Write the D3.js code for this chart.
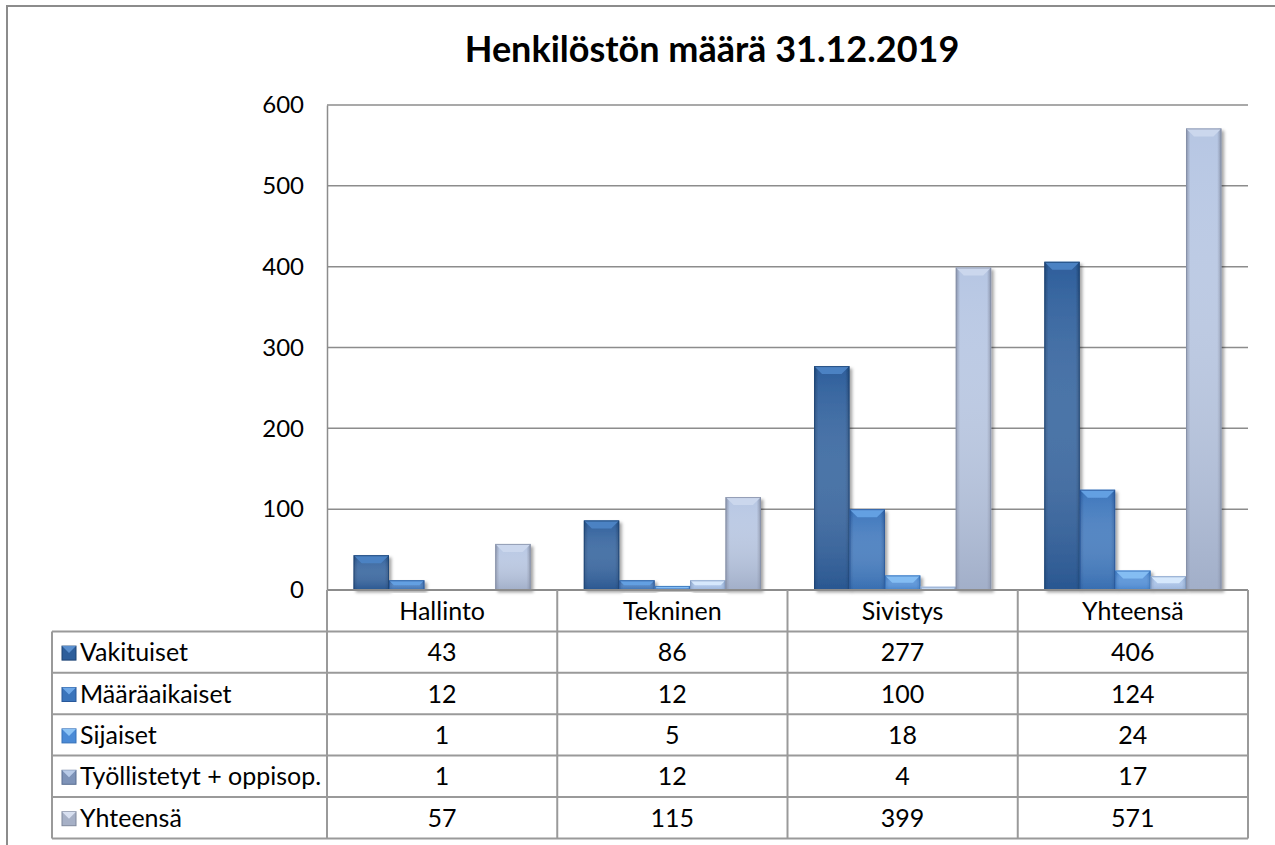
<!DOCTYPE html>
<html><head><meta charset="utf-8">
<script src="https://cdn.jsdelivr.net/npm/d3@7"></script>
<style>
html,body{margin:0;padding:0;background:#fff;}
svg{display:block;font-family:Lato,"Open Sans",sans-serif;}
</style></head>
<body>
<svg id="chart" width="1275" height="845"></svg>
<script>
const title = "Henkilöstön määrä 31.12.2019";
const categories = ["Hallinto","Tekninen","Sivistys","Yhteensä"];
const seriesNames = ["Vakituiset","Määräaikaiset","Sijaiset","Työllistetyt + oppisop.","Yhteensä"];
const vakituiset = [43,86,277,406];
const maaraaikaiset = [12,12,100,124];
const sijaiset = [1,5,18,24];
const tyollistetyt = [1,12,4,17];
const yhteensa = [57,115,399,571];
const yTicks = [0,100,200,300,400,500,600];

const seriesValues = [vakituiset, maaraaikaiset, sijaiset, tyollistetyt, yhteensa];
const palette = [
  {edge:"#1d4373", body:"#2d5e9b", topc:"#4c82c3", bottomBody:"#27528a"},
  {edge:"#28589a", body:"#3a74bb", topc:"#64a0e2", bottomBody:"#3469aa"},
  {edge:"#3470b8", body:"#4a8ad6", topc:"#84bdf3", bottomBody:"#4480c6"},
  {edge:"#7f9ac2", body:"#a4c0e8", topc:"#d6e8fc", bottomBody:"#93abd2"},
  {edge:"#848ea6", body:"#b6c6e3", topc:"#cbd7ed", bottomBody:"#949fb7"}
];
const iconPalette = [
  {edge:"#1d4373", body:"#2d5e9b", topc:"#5a8fce"},
  {edge:"#28589a", body:"#3a74bb", topc:"#6ea8e8"},
  {edge:"#3470b8", body:"#4a8ad6", topc:"#8cc3f5"},
  {edge:"#5a6f92", body:"#7e93b8", topc:"#b9cbe8"},
  {edge:"#7e879c", body:"#a6b0c6", topc:"#d8e0f0"}
];

const svg = d3.select("#chart");
const defs = svg.append("defs");
const f = defs.append("filter").attr("id","shadow").attr("x","-20%").attr("y","-20%").attr("width","150%").attr("height","150%");
f.append("feDropShadow").attr("dx",2.5).attr("dy",2.5).attr("stdDeviation",1.5).attr("flood-color","#000").attr("flood-opacity",0.35);

palette.forEach((p,i)=>{
  const gh = defs.append("linearGradient").attr("id","gh"+i).attr("x1","0").attr("x2","1").attr("y1","0").attr("y2","0");
  gh.append("stop").attr("offset","0%").attr("stop-color",p.edge);
  gh.append("stop").attr("offset","12%").attr("stop-color",p.body);
  gh.append("stop").attr("offset","88%").attr("stop-color",p.body);
  gh.append("stop").attr("offset","100%").attr("stop-color",p.edge);
  const gv = defs.append("linearGradient").attr("id","gv"+i).attr("x1","0").attr("x2","0").attr("y1","0").attr("y2","1");
  gv.append("stop").attr("offset","0%").attr("stop-color","#fff").attr("stop-opacity",0);
  gv.append("stop").attr("offset","100%").attr("stop-color",p.bottomBody).attr("stop-opacity",0.6);
});

svg.append("rect").attr("x",7).attr("y",6).attr("width",1290).attr("height",860)
  .attr("fill","none").attr("stroke","#8c8c8c").attr("stroke-width",2);

svg.append("text").attr("x",712).attr("y",62).attr("text-anchor","middle")
  .attr("font-size",36).attr("font-weight","bold").attr("fill","#000").text(title);

const plotLeft = 327, plotRight = 1248, plotTop = 105, plotBottom = 590;
const x = d3.scaleBand().domain(categories).range([plotLeft,plotRight]).paddingInner(0).paddingOuter(0);
const xs = d3.scaleBand().domain(seriesNames).range([0,x.bandwidth()]).paddingInner(0).paddingOuter(0.75);
const y = d3.scaleLinear().domain([0,600]).range([plotBottom,plotTop]);

const grid = svg.append("g");
grid.selectAll("line").data(yTicks.filter(t=>t>0)).join("line")
  .attr("x1",plotLeft).attr("x2",plotRight).attr("y1",d=>y(d)).attr("y2",d=>y(d))
  .attr("stroke","#8c8c8c").attr("stroke-width",1.5);

const yAxis = d3.axisLeft(y).tickValues(yTicks).tickSize(0).tickPadding(23);
const ga = svg.append("g").attr("transform",`translate(${plotLeft},0)`).call(yAxis);
ga.select(".domain").attr("stroke","#8c8c8c").attr("stroke-width",1.5);
ga.selectAll("text").attr("font-size",24).attr("font-family","Lato,sans-serif").attr("fill","#000");

const bars = svg.append("g");
categories.forEach((c,ci)=>{
  seriesNames.forEach((s,si)=>{
    const v = seriesValues[si][ci];
    const bx = x(c)+xs(s), bw = xs.bandwidth();
    const by = y(v), bh = y(0)-y(v);
    const p = palette[si];
    const g = bars.append("g").attr("filter","url(#shadow)");
    g.append("rect").attr("x",bx).attr("y",by).attr("width",bw).attr("height",bh).attr("fill",`url(#gh${si})`);
    g.append("rect").attr("x",bx).attr("y",by).attr("width",bw).attr("height",bh).attr("fill",`url(#gv${si})`);
    const b = Math.min(8, bh/2, bw/2);
    if (b>0.3){
      g.append("polygon").attr("points",[[bx,by],[bx+bw,by],[bx+bw-b,by+b],[bx+b,by+b]].map(q=>q.join(",")).join(" "))
        .attr("fill",p.topc);
    }
    g.append("rect").attr("x",bx+0.5).attr("y",by+0.5).attr("width",Math.max(0,bw-1)).attr("height",Math.max(0,bh-1))
      .attr("fill","none").attr("stroke",p.edge).attr("stroke-width",1).attr("stroke-opacity",0.8);
  });
});

svg.append("line").attr("x1",plotLeft).attr("x2",plotRight).attr("y1",plotBottom).attr("y2",plotBottom).attr("stroke","#8c8c8c").attr("stroke-width",2);

const tableLeft = 52, rowH = 41.4, fs = 25;
const rowY = i => plotBottom + rowH*i;
const tbl = svg.append("g");
const lineCol = "#9a9a9a";
categories.forEach((c,ci)=>{
  tbl.append("text").attr("x",x(c)+x.bandwidth()/2).attr("y",rowY(0)+rowH/2+9)
    .attr("text-anchor","middle").attr("font-size",fs).attr("fill","#000").text(c);
});
d3.range(1,seriesNames.length+2).forEach(i=>{
  tbl.append("line").attr("x1",tableLeft).attr("x2",plotRight).attr("y1",rowY(i)).attr("y2",rowY(i))
    .attr("stroke",lineCol).attr("stroke-width",2);
});
tbl.append("line").attr("x1",tableLeft).attr("x2",tableLeft).attr("y1",rowY(1)).attr("y2",rowY(seriesNames.length+1)).attr("stroke",lineCol).attr("stroke-width",2);
categories.forEach(c=>{
  tbl.append("line").attr("x1",x(c)).attr("x2",x(c)).attr("y1",rowY(0)).attr("y2",rowY(seriesNames.length+1)).attr("stroke",lineCol).attr("stroke-width",2);
});
tbl.append("line").attr("x1",plotRight).attr("x2",plotRight).attr("y1",rowY(0)).attr("y2",rowY(seriesNames.length+1)).attr("stroke",lineCol).attr("stroke-width",2);

seriesNames.forEach((s,si)=>{
  const ry = rowY(si+1);
  const p = iconPalette[si];
  const ix = 62, iy = ry + rowH/2 - 6, is = 14;
  const ig = tbl.append("g");
  ig.append("rect").attr("x",ix).attr("y",iy).attr("width",is).attr("height",is).attr("fill",p.body).attr("stroke",p.edge).attr("stroke-width",1);
  ig.append("polygon").attr("points",[[ix,iy],[ix+is,iy],[ix+is/2,iy+is/2]].map(q=>q.join(",")).join(" ")).attr("fill",p.topc);
  tbl.append("text").attr("x",80).attr("y",ry+rowH/2+9).attr("font-size",fs).attr("fill","#000").text(s);
  categories.forEach((c,ci)=>{
    tbl.append("text").attr("x",x(c)+x.bandwidth()/2).attr("y",ry+rowH/2+9)
      .attr("text-anchor","middle").attr("font-size",fs).attr("fill","#000").text(seriesValues[si][ci]);
  });
});
</script>
</body></html>
